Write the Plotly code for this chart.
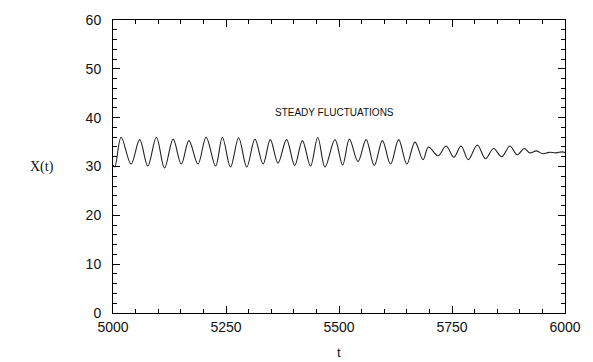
import plotly.graph_objects as go

# time points (extrema)
t_vals = [5000, 5004, 5018, 5040, 5059, 5077, 5096, 5114, 5133, 5151, 5168, 5188,
          5206, 5227, 5242, 5260, 5278, 5296, 5314, 5332, 5348, 5365, 5384, 5402,
          5419, 5437, 5453, 5469, 5491, 5508, 5523, 5542, 5560, 5578, 5596, 5614,
          5632, 5650, 5668, 5686, 5698, 5719, 5737, 5754, 5770, 5786, 5806, 5824,
          5842, 5860, 5878, 5894, 5910, 5922, 5937, 5951, 5965, 5980, 5994, 6000]
x_vals = [30.3, 29.9, 36.0, 30.5, 35.5, 30.1, 36.0, 29.7, 35.6, 30.5, 35.3, 30.5,
          36.0, 30.1, 36.0, 29.9, 35.9, 29.9, 35.6, 30.5, 35.5, 30.7, 35.5, 30.2,
          35.3, 30.1, 36.0, 29.9, 35.5, 30.3, 35.6, 31.0, 35.5, 30.2, 35.3, 30.5,
          35.5, 30.5, 35.0, 31.4, 34.0, 32.2, 34.2, 31.9, 34.2, 31.4, 34.4, 31.6,
          33.7, 32.0, 34.2, 32.4, 33.7, 32.8, 33.2, 32.6, 32.9, 32.8, 33.0, 32.8]

x_ticks = [5000, 5250, 5500, 5750, 6000]
y_ticks = [0, 10, 20, 30, 40, 50, 60]

fig = go.Figure()
fig.add_trace(go.Scatter(x=t_vals, y=x_vals, mode="lines",
                         line=dict(color="#222222", width=1.1, shape="spline", smoothing=1.0),
                         showlegend=False, hoverinfo="skip"))

axis_common = dict(showgrid=False, zeroline=False, showline=True, linecolor="black",
                   linewidth=1, mirror="allticks", ticks="inside", tickcolor="black",
                   tickwidth=1, ticklen=7,
                   tickfont=dict(family="Liberation Sans, Arial, sans-serif", size=14, color="#111111"))

fig.update_xaxes(range=[5000, 6000], tickvals=x_ticks, ticktext=[str(v) for v in x_ticks],
                 ticklabelstandoff=1,
                 minor=dict(dtick=50, tick0=5000, ticks="inside", ticklen=4, tickcolor="black", showgrid=False),
                 **axis_common)
fig.update_yaxes(range=[0, 60], tickvals=y_ticks, ticktext=[str(v) for v in y_ticks],
                 ticklabelstandoff=8,
                 minor=dict(dtick=2, tick0=0, ticks="inside", ticklen=4, tickcolor="black", showgrid=False),
                 **axis_common)

fig.add_annotation(x=5490, y=41.0, xref="x", yref="y", text="STEADY FLUCTUATIONS",
                   showarrow=False, font=dict(family="Liberation Sans, Arial, sans-serif", size=10, color="#111111"))
fig.add_annotation(x=-0.158, y=0.5, xref="paper", yref="paper", text="X(t)",
                   showarrow=False, xanchor="center", yanchor="middle",
                   font=dict(family="Liberation Serif, Times New Roman, serif", size=14, color="#111111"))
fig.add_annotation(x=0.5, y=-0.135, xref="paper", yref="paper", text="t",
                   showarrow=False, xanchor="center", yanchor="middle",
                   font=dict(family="Liberation Sans, Arial, sans-serif", size=13, color="#111111"))

fig.update_layout(width=593, height=362, margin=dict(l=113, r=17, t=19, b=49),
                  paper_bgcolor="white", plot_bgcolor="white")

fig.write_html("out.html")
